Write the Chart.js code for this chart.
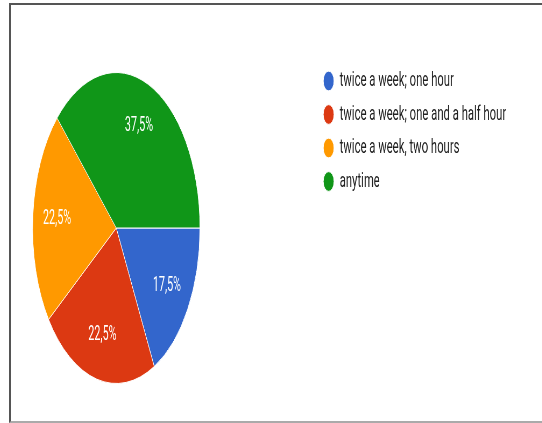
<!DOCTYPE html>
<html>
<head>
<meta charset="utf-8">
<script src="https://cdn.jsdelivr.net/npm/chart.js@4"></script>
<style>
  html, body { margin: 0; padding: 0; background: #fff; overflow: hidden; }
  body { width: 542px; height: 423px; position: relative; }
  /* chart is laid out wide, then squeezed horizontally */
  #wrap {
    position: absolute; left: -84.4px; top: 0;
    width: 1200px; height: 423px;
    transform: scaleX(0.538); transform-origin: 0 0;
  }
  .frame {
    position: absolute; left: 9px; top: 3px; width: 560px; height: 416px;
    border-left: 2px solid #555; border-top: 2px solid #555; border-bottom: 2px solid #aaa;
    pointer-events: none;
  }
</style>
</head>
<body>
<div id="wrap"><canvas id="pie"></canvas></div>
<div class="frame"></div>
<script>
const labels = ['twice a week; one hour', 'twice a week; one and a half hour', 'twice a week, two hours', 'anytime'];
const values = [17.5, 22.5, 22.5, 37.5];
const colors = ['#3366cc', '#dc3912', '#ff9900', '#109618'];

const legendFont = { family: 'Roboto', size: 21 };
const legendPad = 12.5;
const legendBox = 20;
const legendLeft = 731;   // where the legend column starts

// size the wrapper so the legend ends up at legendLeft
const mctx = document.createElement('canvas').getContext('2d');
mctx.font = legendFont.size + 'px ' + legendFont.family;
const widest = Math.max(...labels.map(t => mctx.measureText(t).width));
const legendWidth = legendPad * 2 + legendBox + legendFont.size / 2 + widest + 10;
document.getElementById('wrap').style.width = Math.ceil(legendLeft + legendWidth) + 'px';

// percentage text inside each slice
const sliceLabels = {
  id: 'sliceLabels',
  afterDatasetsDraw(chart) {
    const ctx = chart.ctx;
    const meta = chart.getDatasetMeta(0);
    ctx.save();
    ctx.fillStyle = '#fff';
    ctx.font = '20px Roboto';
    ctx.textAlign = 'center';
    ctx.textBaseline = 'middle';
    meta.data.forEach((arc, i) => {
      const p = arc.getProps(['x', 'y', 'startAngle', 'endAngle', 'outerRadius'], true);
      const a = (p.startAngle + p.endAngle) / 2;
      const r = p.outerRadius * 0.71;
      const txt = values[i].toFixed(1).replace('.', ',') + '%';
      ctx.fillText(txt, p.x + Math.cos(a) * r, p.y + Math.sin(a) * r);
    });
    ctx.restore();
  }
};

new Chart(document.getElementById('pie'), {
  type: 'pie',
  data: {
    labels: labels,
    datasets: [{
      data: values,
      backgroundColor: colors,
      borderColor: '#fff',
      borderWidth: 1,
      radius: 155.5
    }]
  },
  options: {
    responsive: true,
    maintainAspectRatio: false,
    animation: false,
    rotation: 90,
    layout: { padding: { left: 0, top: 58, right: 0, bottom: 25 } },
    plugins: {
      tooltip: { enabled: false },
      legend: {
        position: 'right',
        align: 'start',
        labels: {
          usePointStyle: true,
          pointStyle: 'circle',
          boxWidth: legendBox,
          boxHeight: 14,
          padding: legendPad,
          color: '#222',
          font: legendFont
        }
      }
    }
  },
  plugins: [sliceLabels]
});
</script>
</body>
</html>
